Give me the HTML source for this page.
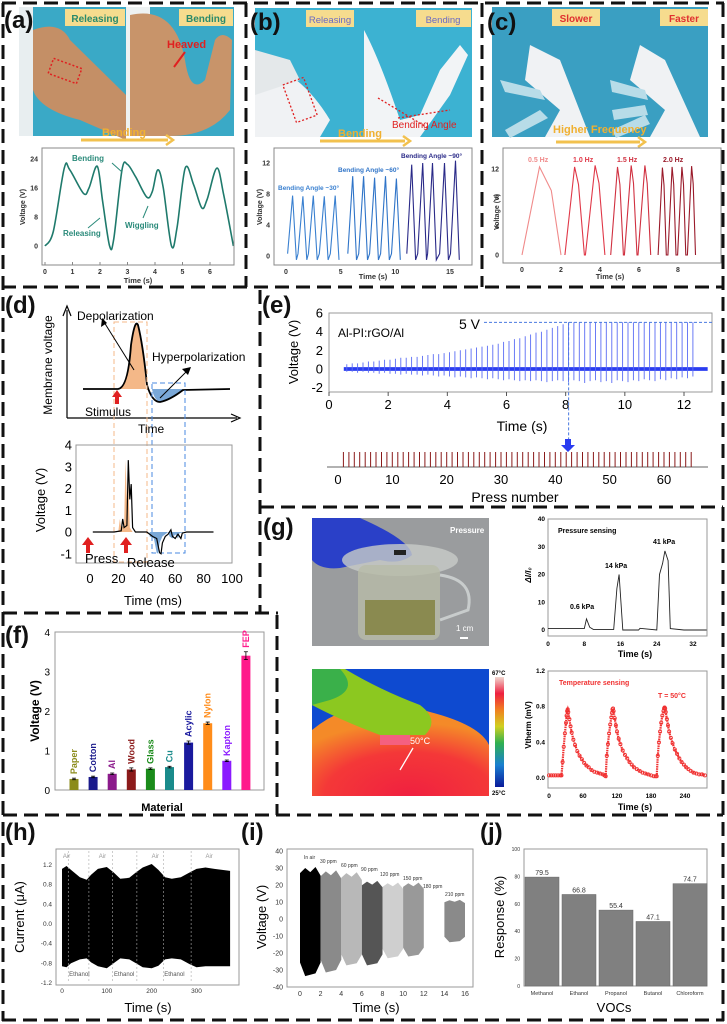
<!DOCTYPE html>
<html><head><meta charset="utf-8"><style>
html,body{margin:0;padding:0;background:#fff}
svg{display:block;font-family:"Liberation Sans",sans-serif}
</style></head><body>
<svg id="fig" width="727" height="1024" viewBox="0 0 727 1024" xmlns="http://www.w3.org/2000/svg">
<rect width="727" height="1024" fill="#fff"/>
<!-- borders -->
<g stroke="#111" stroke-width="3" stroke-dasharray="14 7" fill="none">
<line x1="2" y1="3" x2="724" y2="3"/>
<line x1="3" y1="3" x2="3" y2="1021"/>
<line x1="723" y1="3" x2="723" y2="1021"/>
<line x1="2" y1="287" x2="724" y2="287"/>
<line x1="246" y1="3" x2="246" y2="287"/>
<line x1="482" y1="3" x2="482" y2="287"/>
<line x1="260" y1="290" x2="260" y2="613"/>
<line x1="3" y1="613" x2="278" y2="613"/>
<line x1="277" y1="615" x2="277" y2="815"/>
<line x1="260" y1="507" x2="723" y2="507"/>
<line x1="3" y1="815" x2="723" y2="815"/>
<line x1="2" y1="1020" x2="724" y2="1020"/>
</g>

<!-- photo a -->
<g>
<rect x="19" y="7" width="107" height="129" fill="#3aa9c6"/>
<rect x="19" y="7" width="14" height="129" fill="#e8eef0"/>
<path d="M33 30 Q60 20 70 40 L126 95 L126 140 L80 120 Q40 110 33 90Z" fill="#c48f66"/>
<rect x="126" y="7" width="108" height="129" fill="#3aa9c6"/>
<path d="M126 7 L150 7 L150 136 L126 136Z" fill="#eef2f2"/>
<path d="M130 15 Q175 5 185 60 Q190 95 205 80 L215 40 Q222 30 232 40 L230 110 Q210 136 170 136 L130 136Z" fill="#c8946a"/>
<rect x="50" y="63" width="30" height="16" fill="none" stroke="#e02020" stroke-width="1.5" stroke-dasharray="2 2" transform="rotate(20 65 71)"/>
<rect x="65" y="9" width="60" height="17" fill="#f6dc8e"/>
<text x="95" y="22" font-size="10" font-weight="bold" fill="#2a8a6a" text-anchor="middle">Releasing</text>
<rect x="179" y="9" width="54" height="17" fill="#f6dc8e"/>
<text x="206" y="22" font-size="10" font-weight="bold" fill="#2a8a6a" text-anchor="middle">Bending</text>
<text x="167" y="48" font-size="11" font-weight="bold" fill="#e02020">Heaved</text>
<line x1="185" y1="52" x2="174" y2="67" stroke="#e02020" stroke-width="2"/>
<line x1="81" y1="140" x2="168" y2="140" stroke="#f2c14e" stroke-width="3"/>
<path d="M166 135 L173 140 L166 145" fill="none" stroke="#f2c14e" stroke-width="2.5"/>
<text x="102" y="136" font-size="11" font-weight="bold" fill="#f0b030">Bending</text>
</g>
<!-- photo b -->
<g>
<rect x="255" y="8" width="109" height="129" fill="#3cb2d2"/>
<path d="M255 60 Q300 70 330 120 L320 137 L255 137Z" fill="#f0f2f4"/>
<path d="M255 50 L290 60 L300 80 L255 95Z" fill="#e4e8ea"/>
<rect x="364" y="8" width="108" height="129" fill="#3cb2d2"/>
<path d="M364 30 Q380 60 400 120 L420 115 L440 70 L460 45 L468 55 L450 95 L420 137 L364 137Z" fill="#f2f4f6"/>
<rect x="289" y="80" width="22" height="40" fill="none" stroke="#e02020" stroke-width="1.3" stroke-dasharray="2 2" transform="rotate(-20 300 100)"/>
<line x1="378" y1="98" x2="428" y2="128" stroke="#e02020" stroke-width="1.3" stroke-dasharray="2 2"/>
<line x1="398" y1="118" x2="450" y2="110" stroke="#e02020" stroke-width="1.3" stroke-dasharray="2 2"/>
<rect x="306" y="10" width="48" height="17" fill="#f6dc8e"/>
<text x="330" y="23" font-size="9.5" fill="#6a6ac4" text-anchor="middle">Releasing</text>
<rect x="416" y="10" width="55" height="17" fill="#f6dc8e"/>
<text x="443" y="23" font-size="9.5" fill="#6a6ac4" text-anchor="middle">Bending</text>
<text x="392" y="128" font-size="10" fill="#e02020">Bending Angle</text>
<line x1="320" y1="141" x2="405" y2="141" stroke="#f2c14e" stroke-width="3"/>
<path d="M403 136 L410 141 L403 146" fill="none" stroke="#f2c14e" stroke-width="2.5"/>
<text x="338" y="137" font-size="11" font-weight="bold" fill="#f0b030">Bending</text>
</g>
<!-- photo c -->
<g>
<rect x="492" y="7" width="108" height="130" fill="#3a9fc2"/>
<rect x="600" y="7" width="108" height="130" fill="#3a9fc2"/>
<path d="M530 45 L560 60 L590 137 L545 137 L560 110 L525 80Z" fill="#f0f2f4"/>
<path d="M640 45 L665 60 L700 137 L650 137 L665 110 L630 80Z" fill="#f0f2f4"/>
<path d="M500 80 L540 90 L545 100 L505 92Z" fill="#b8dce8"/>
<path d="M505 130 L540 110 L548 118 L510 138Z" fill="#b8dce8"/>
<path d="M610 80 L645 90 L648 100 L612 92Z" fill="#b8dce8"/>
<path d="M612 110 L645 105 L648 115 L614 120Z" fill="#b8dce8"/>
<path d="M612 130 L645 115 L650 124 L616 138Z" fill="#b8dce8"/>
<rect x="552" y="9" width="48" height="17" fill="#f6dc8e"/>
<text x="576" y="22" font-size="10" font-weight="bold" fill="#e03030" text-anchor="middle">Slower</text>
<rect x="660" y="9" width="48" height="17" fill="#f6dc8e"/>
<text x="684" y="22" font-size="10" font-weight="bold" fill="#e03030" text-anchor="middle">Faster</text>
<line x1="556" y1="142" x2="640" y2="142" stroke="#f2c14e" stroke-width="3"/>
<path d="M638 137 L645 142 L638 147" fill="none" stroke="#f2c14e" stroke-width="2.5"/>
<text x="553" y="133" font-size="11" font-weight="bold" fill="#f0b030">Higher Frequency</text>
</g>

<!-- photo g pressure -->
<g>
<rect x="312" y="518" width="177" height="128" fill="#9a9c9e"/>
<path d="M312 518 L360 518 Q410 540 412 555 Q400 565 380 560 L340 568 Q320 570 312 560Z" fill="#2a40c8"/>
<ellipse cx="400" cy="560" rx="58" ry="16" fill="#c8ccc8" opacity="0.8"/>
<rect x="358" y="565" width="82" height="75" rx="8" fill="#b8bca8" opacity="0.8"/>
<rect x="365" y="600" width="70" height="35" fill="#8a8a50"/>
<path d="M440 575 Q475 580 468 610 L440 620" fill="none" stroke="#c8cccc" stroke-width="3"/>
<rect x="394" y="550" width="12" height="5" fill="#222"/>
<text x="450" y="533" font-size="8" fill="#fff" font-weight="bold">Pressure</text>
<text x="456" y="631" font-size="8" fill="#fff">1 cm</text>
<rect x="460" y="637" width="8" height="2" fill="#fff"/>
</g>
<!-- thermal -->
<defs>
<linearGradient id="cbar" x1="0" y1="1" x2="0" y2="0">
<stop offset="0" stop-color="#0a1a9a"/><stop offset="0.2" stop-color="#1a80d0"/><stop offset="0.4" stop-color="#30b050"/><stop offset="0.55" stop-color="#d0d020"/><stop offset="0.7" stop-color="#f08020"/><stop offset="0.85" stop-color="#ee2040"/><stop offset="1" stop-color="#f0d8d0"/>
</linearGradient>
<radialGradient id="hot" cx="0.55" cy="1" r="0.8"><stop offset="0" stop-color="#f02040"/><stop offset="0.6" stop-color="#f43838"/><stop offset="1" stop-color="#f48a28"/></radialGradient>
</defs>
<g>
<rect x="312" y="669" width="177" height="127" fill="#0e4ad0"/>
<path d="M312 730 Q360 690 430 712 Q480 725 489 745 L489 796 L312 796Z" fill="url(#hot)"/>
<path d="M312 669 L345 669 Q380 690 420 705 Q440 720 425 735 L380 735 Q340 720 312 705Z" fill="#8cc820"/>
<path d="M312 669 L340 669 Q360 690 330 700 L312 705Z" fill="#3ab04a"/>
<rect x="380" y="735" width="30" height="10" fill="#f46080"/>
<text x="410" y="744" font-size="9" fill="#fff">50°C</text>
<line x1="413" y1="748" x2="400" y2="770" stroke="#fff" stroke-width="1.3"/>
<rect x="495" y="677" width="9" height="110" fill="url(#cbar)"/>
<text x="492" y="675" font-size="6" font-weight="bold">67°C</text>
<text x="492" y="795" font-size="6" font-weight="bold">25°C</text>
</g>

<!-- panel labels -->
<g font-weight="bold" font-size="24" fill="#111">
<text x="4" y="28">(a)</text>
<text x="250" y="30">(b)</text>
<text x="487" y="30">(c)</text>
<text x="5" y="313">(d)</text>
<text x="262" y="313">(e)</text>
<text x="263" y="535">(g)</text>
<text x="5" y="643">(f)</text>
<text x="5" y="840">(h)</text>
<text x="241" y="840">(i)</text>
<text x="480" y="840">(j)</text>
</g>

<g id="charts"></g>
</svg>
<script>
const NS='http://www.w3.org/2000/svg';
const root=document.getElementById('charts');
function mk(tag,attrs,parent){const e=document.createElementNS(NS,tag);for(const k in attrs)e.setAttribute(k,attrs[k]);(parent||root).appendChild(e);return e;}
function txt(x,y,s,attrs,parent){const e=mk('text',Object.assign({x:x,y:y},attrs||{}),parent);e.textContent=s;return e;}
function lin(x0,x1,p0,p1){return v=>p0+(v-x0)*(p1-p0)/(x1-x0);}
function smooth(pts){let d='M'+pts[0][0].toFixed(1)+' '+pts[0][1].toFixed(1);for(let i=0;i<pts.length-1;i++){const p0=pts[i-1]||pts[i],p1=pts[i],p2=pts[i+1],p3=pts[i+2]||p2;const c1=[p1[0]+(p2[0]-p0[0])/6,p1[1]+(p2[1]-p0[1])/6],c2=[p2[0]-(p3[0]-p1[0])/6,p2[1]-(p3[1]-p1[1])/6];d+=' C'+c1[0].toFixed(1)+' '+c1[1].toFixed(1)+' '+c2[0].toFixed(1)+' '+c2[1].toFixed(1)+' '+p2[0].toFixed(1)+' '+p2[1].toFixed(1);}return d;}
function poly(pts){return 'M'+pts.map(p=>p[0].toFixed(1)+' '+p[1].toFixed(1)).join(' L');}
function frame(x0,y0,x1,y1,col){const r=mk('rect',{x:x0,y:y0,width:x1-x0,height:y1-y0,fill:'none',stroke:col||'#888','stroke-width':1});return r;}

// ===== data =====
const aT=[0,0.3,0.7,0.9,1.4,1.6,1.9,2.1,2.35,2.5,2.8,3.0,3.3,3.7,3.9,4.1,4.3,4.6,4.8,5.1,5.4,5.7,5.9,6.25,6.5,6.85];
const aV=[0,4,21.5,21,14.5,16,22,12,0,2,21,22.5,19,13.5,15,21,16,0,5,21.5,17,10.5,13,21.5,14,0];
const bPeakT=[0.6,1.55,2.5,3.5,4.5,6.1,7.1,8.1,9.1,10.1,11.5,12.5,13.4,14.5,15.5];
const bPeakV=[7.8,7.7,7.8,7.7,7.8,10.3,10.3,10.1,10.3,10,11.8,12,12,12,12.3];
const bGroup=[0,0,0,0,0,1,1,1,1,1,2,2,2,2,2];
const cPeakT=[0.9,2.7,3.75,4.9,5.6,6.3,7.2,7.7,8.2,8.7];
const cPeakV=[12.3,12.3,12.5,12.3,12.5,12.5,12.2,12.3,12.3,12.4];
const cGroup=[0,1,1,2,2,2,3,3,3,3];
const dT=[0,15,20,21,22,24,25,26,27,28,30,38,42,45,47,48,49,51,53,55,56,58,60,62,63,66,85];
const dV=[0,0,0.05,0.6,0.2,0.3,3.3,1.5,2.2,0.2,0,0,-0.2,-0.3,-0.95,-1,-0.5,-0.2,-0.1,0.1,-0.2,-0.3,-0.1,-0.3,-0.05,0,0];
const ePeaks=[0.5,0.6,0.6,0.7,0.8,0.8,0.9,1.0,1.0,1.1,1.2,1.2,1.3,1.3,1.4,1.5,1.6,1.6,1.7,1.8,1.9,2.0,2.1,2.2,2.3,2.4,2.5,2.6,2.7,2.9,3.0,3.2,3.3,3.5,3.7,3.9,4.0,4.2,4.4,4.6,4.8,5,5,5,5,5,5,5,5,5,5,5,5,5,5,5,5,5,5,5,5,5,5,5,5];
const eDips=[-0.3,-0.3,-0.4,-0.3,-0.4,-0.4,-0.5,-0.4,-0.5,-0.5,-0.6,-0.5,-0.6,-0.6,-0.7,-0.6,-0.7,-0.8,-0.7,-0.8,-0.9,-0.8,-0.9,-1.0,-0.9,-1.0,-1.1,-1.0,-1.1,-1.2,-1.1,-1.2,-1.3,-1.2,-1.3,-1.2,-1.3,-1.4,-1.3,-1.2,-1.3,-1.4,-1.2,-1.3,-1.5,-1.3,-1.2,-1.4,-1.3,-1.5,-1.2,-1.3,-1.4,-1.2,-1.3,-1.1,-1.2,-1.3,-1.1,-1.2,-1.0,-1.1,-0.9,-1.0,-0.8];
const eTickX=[0,2,4,6,8,10,12];const eTickY=[-2,0,2,4,6];
const pressTicks=[0,10,20,30,40,50,60];
const fCats=['Paper','Cotton','Al','Wood','Glass','Cu','Acylic','Nylon','Kapton','FEP'];
const fVals=[0.28,0.33,0.41,0.52,0.54,0.58,1.20,1.69,0.74,3.40];
const fErr=[0.02,0.02,0.02,0.04,0.02,0.02,0.04,0.03,0.02,0.1];
const fColors=['#8b8b1a','#1a1a8b','#8b1a8b','#8b1a1a','#1a8b1a','#1a8b8b','#1a1a9e','#ff8c1a','#8b1aff','#ff1a8b'];
const gPT=[0,8,8.5,9.2,10,14.5,15.2,15.7,16.5,20,20.3,24,24.6,25.3,25.8,26.5,27,30,35];
const gPV=[0.5,0.5,4,1,0.2,0.2,15,20,0,0,0.6,0,20,24,28.5,25,0.5,0,0];
const gTT=[0,4,8,12,16,20,22,24,26,28,30,31,32,33,34,36,38,40,43,46,50,54,58,62,66,70,75,80,85,90,95,98,100,102,104,106,108,110,111,112,113,114,116,118,120,123,126,130,134,138,142,146,150,155,160,165,170,175,180,185,188,190,192,194,196,198,200,202,203,204,205,206,208,210,212,215,218,222,226,230,234,238,242,246,250,255,260,265,270,275];
const gTV=[0.03,0.03,0.03,0.03,0.03,0.03,0.03,0.18,0.35,0.5,0.62,0.7,0.75,0.77,0.74,0.66,0.58,0.51,0.43,0.37,0.3,0.25,0.21,0.17,0.14,0.12,0.09,0.07,0.06,0.05,0.04,0.03,0.02,0.25,0.38,0.5,0.6,0.68,0.73,0.77,0.78,0.75,0.67,0.59,0.52,0.44,0.38,0.31,0.26,0.22,0.18,0.15,0.12,0.1,0.08,0.06,0.05,0.04,0.03,0.02,0.02,0.02,0.25,0.4,0.52,0.62,0.7,0.75,0.78,0.79,0.78,0.74,0.66,0.59,0.52,0.45,0.39,0.32,0.27,0.22,0.18,0.15,0.12,0.1,0.08,0.06,0.05,0.04,0.04,0.03];
const hT=[0,10,20,40,55,65,80,100,115,130,150,165,180,200,215,230,245,265,285,300,320,340,375];
const hUp=[1.12,1.18,1.1,0.95,0.9,1.0,1.12,1.16,1.05,0.92,0.94,1.05,1.15,1.22,1.1,0.95,0.92,0.95,1.05,1.12,1.15,1.12,1.08];
const hLo=[-0.86,-0.88,-0.8,-0.72,-0.7,-0.78,-0.86,-0.9,-0.8,-0.7,-0.72,-0.8,-0.88,-0.9,-0.85,-0.72,-0.7,-0.72,-0.82,-0.88,-0.86,-0.86,-0.86];
const hMarks=[14,60,113,167,226,288];
const iStart=[0,2,4,6,8,10,14];const iEnd=[2,4,6,8,10,12,16];
const iUp=[30,28,27,22,21,21,11];const iLo=[-32,-30,-26,-26,-22,-21,-13];
const iCol=['#000','#8a8a8a','#b8b8b8','#555','#cfcfcf','#999','#8a8a8a'];
const iLabels=['In air','30 ppm','60 ppm','90 ppm','120 ppm','150 ppm','180 ppm','210 ppm'];
const jCats=['Methanol','Ethanol','Propanol','Butanol','Chloroform'];
const jVals=[79.5,66.8,55.4,47.1,74.7];

// ===== (a) =====
(function(){
 const X=lin(0,6,45,210),Y=lin(0,24,246,159);
 const g=mk('g',{});
 frame(42,148,234,265);
 [0,1,2,3,4,5,6].forEach(v=>{const t=txt(X(v),274,String(v),{'font-size':7,'text-anchor':'middle','font-weight':'bold',fill:'#333'},g);mk('line',{x1:X(v),x2:X(v),y1:265,y2:262,stroke:'#888'},g);});
 [0,8,16,24].forEach(v=>{const t=txt(38,Y(v)+2.5,String(v),{'font-size':7,'text-anchor':'end','font-weight':'bold',fill:'#333'},g);});
 const xl=txt(138,283,'Time (s)',{'font-size':7.5,'font-weight':'bold','text-anchor':'middle',fill:'#333'},g);
 const yl=txt(0,0,'Voltage (V)',{'font-size':7,'font-weight':'bold','text-anchor':'middle',fill:'#333',transform:'translate(25 207) rotate(-90)'},g);
 const p=mk('path',{d:smooth(aT.map((t,i)=>[X(t),Y(aV[i])])),fill:'none',stroke:'#1f7a6c','stroke-width':1.6},g);
 [['Bending',72,161],['Releasing',63,236],['Wiggling',125,228]].forEach(a=>{const t=txt(a[1],a[2],a[0],{'font-size':8,'font-weight':'bold',fill:'#2a8a7a'},g);});
 mk('line',{x1:112,y1:163,x2:122,y2:172,stroke:'#2a8a7a'},g);mk('line',{x1:88,y1:228,x2:100,y2:218,stroke:'#2a8a7a'},g);mk('line',{x1:143,y1:218,x2:148,y2:206,stroke:'#2a8a7a'},g);
})();

// ===== (b) =====
(function(){
 const X=lin(0,15,286,450),Y=lin(0,12,256,163);
 const g=mk('g',{});
 frame(274,148,472,265);
 [0,5,10,15].forEach(v=>{const t=txt(X(v),274,String(v),{'font-size':7,'text-anchor':'middle','font-weight':'bold',fill:'#333'},g);});
 [0,4,8,12].forEach(v=>{const t=txt(270,Y(v)+2.5,String(v),{'font-size':7,'text-anchor':'end','font-weight':'bold',fill:'#333'},g);});
 const xl=txt(373,279,'Time (s)',{'font-size':7.5,'font-weight':'bold','text-anchor':'middle',fill:'#333'},g);
 const yl=txt(0,0,'Voltage (V)',{'font-size':7,'font-weight':'bold','text-anchor':'middle',fill:'#333',transform:'translate(262 207) rotate(-90)'},g);
 const cols=['#3a80d0','#2f74c8','#2a2a88'];
 for(let k=0;k<3;k++){const pts=[];bPeakT.forEach((t,i)=>{if(bGroup[i]!==k)return;pts.push([X(t-0.45),Y(0.3)]);pts.push([X(t),Y(bPeakV[i])]);pts.push([X(t+0.35),Y(-0.5)]);});
  const p=mk('path',{d:poly(pts),fill:'none',stroke:cols[k],'stroke-width':1.1},g);}
 [['Bending Angle ~30°',278,190,'#3a80d0'],['Bending Angle ~60°',338,172,'#2f74c8'],['Bending Angle ~90°',401,158,'#2a2a88']].forEach(a=>{const t=txt(a[1],a[2],a[0],{'font-size':6.5,'font-weight':'bold',fill:a[3]},g);});
})();

// ===== (c) =====
(function(){
 const X=lin(0,8,522,678),Y=lin(0,12,255,169);
 const g=mk('g',{});
 frame(503,148,721,263);
 [0,2,4,6,8].forEach(v=>{const t=txt(X(v),272,String(v),{'font-size':7,'text-anchor':'middle','font-weight':'bold',fill:'#333'},g);});
 [0,4,8,12].forEach(v=>{const t=txt(499,Y(v)+2.5,String(v),{'font-size':7,'text-anchor':'end','font-weight':'bold',fill:'#333'},g);});
 const xl=txt(610,279,'Time (s)',{'font-size':7.5,'font-weight':'bold','text-anchor':'middle',fill:'#333'},g);
 const yl=txt(0,0,'Voltage (V)',{'font-size':7,'font-weight':'bold','text-anchor':'middle',fill:'#333',transform:'translate(499 212) rotate(-90)'},g);
 const cols=['#f08a8a','#e03848','#d03040','#9a1a2a'];const rise=[0.9,0.5,0.35,0.22],fall=[1.1,0.5,0.3,0.2];
 for(let k=0;k<4;k++){const pts=[];cPeakT.forEach((t,i)=>{if(cGroup[i]!==k)return;pts.push([X(t-rise[k]),Y(0)]);pts.push([X(t),Y(cPeakV[i])]);if(k===0)pts.push([X(t+0.6),Y(9)]);else pts.push([X(t+fall[k]*0.4),Y(cPeakV[i]*0.8)]);pts.push([X(t+fall[k]),Y(0)]);});
  const p=mk('path',{d:poly(pts),fill:'none',stroke:cols[k],'stroke-width':1.1},g);}
 [['0.5 Hz',528,'#f08a8a'],['1.0 Hz',573,'#e03848'],['1.5 Hz',617,'#d03040'],['2.0 Hz',663,'#9a1a2a']].forEach(a=>{const t=txt(a[1],162,a[0],{'font-size':7,'font-weight':'bold',fill:a[2]},g);});
})();

// ===== (d) =====
(function(){
 const g=mk('g',{});
 mk('path',{d:'M67 418 L67 310 M63 316 L67 306 L71 316',fill:'none',stroke:'#000','stroke-width':1.2},g);
 mk('path',{d:'M67 418 L237 418 M231 414 L240 418 L231 422',fill:'none',stroke:'#000','stroke-width':1.2},g);
 mk('path',{d:'M115 389 L120 389 Q128 385 131 345 Q135 318 138 325 Q143 345 146 389 Z',fill:'#f4b888'},g);
 mk('path',{d:'M152 389 L183 389 Q170 400 160 402 Q154 400 152 389Z',fill:'#7aa8d8'},g);
 const sp=mk('path',{d:'M83 389 L118 389 Q128 388 131 345 Q135 318 138 325 Q143 345 147 385 Q152 402 160 402 Q170 400 183 390 L230 389',fill:'none',stroke:'#000','stroke-width':1.8},g);
 mk('rect',{x:114,y:322,width:33,height:240,fill:'none',stroke:'#f4b888','stroke-width':1,'stroke-dasharray':'5 3'},g);
 mk('rect',{x:152,y:383,width:33,height:170,fill:'none',stroke:'#4a8ae0','stroke-width':1,'stroke-dasharray':'5 3'},g);
 mk('line',{x1:134,y1:370,x2:104,y2:322,stroke:'#000'},g);mk('path',{d:'M102 318 L101 327 L107 323Z'},g);
 mk('line',{x1:160,y1:398,x2:188,y2:370,stroke:'#000'},g);mk('path',{d:'M191 367 L182 369 L188 375Z'},g);
 mk('path',{d:'M115 397 L119 397 L119 404 L115 404Z M112 397 L117 390 L122 397Z',fill:'#e02020'},g);
 [['Depolarization',77,320],['Hyperpolarization',152,361],['Stimulus',85,416],['Time',138,433]].forEach(a=>{const t=txt(a[1],a[2],a[0],{'font-size':12},g);});
 const ml=txt(0,0,'Membrane voltage',{'font-size':12,'text-anchor':'middle',transform:'translate(52 365) rotate(-90)'},g);
 const X=lin(0,100,90,232),Y=lin(0,4,532,445);
 mk('rect',{x:76,y:445,width:156,height:118,fill:'none',stroke:'#999'},g);
 [0,20,40,60,80,100].forEach(v=>{const t=txt(X(v),583,String(v),{'font-size':13,'text-anchor':'middle'},g);});
 [-1,0,1,2,3,4].forEach(v=>{const t=txt(72,Y(v)+4.5,String(v),{'font-size':13,'text-anchor':'end'},g);});
 const xl=txt(153,605,'Time (ms)',{'font-size':13,'text-anchor':'middle'},g);
 const yl=txt(0,0,'Voltage (V)',{'font-size':13,'text-anchor':'middle',transform:'translate(45 500) rotate(-90)'},g);
 const pos=dT.map((t,i)=>[X(t),Y(Math.max(0,dV[i]))]).filter((p,i)=>dT[i]>=18&&dT[i]<=30);
 const fo=mk('path',{d:poly([[X(18),Y(0)]].concat(pos,[[X(30),Y(0)]]))+'Z',fill:'#f4b888'},g);
 const neg=dT.map((t,i)=>[X(t),Y(Math.min(0,dV[i]))]).filter((p,i)=>dT[i]>=42&&dT[i]<=66);
 const fb=mk('path',{d:poly([[X(42),Y(0)]].concat(neg,[[X(66),Y(0)]]))+'Z',fill:'#7aa8d8'},g);
 const p=mk('path',{d:poly(dT.map((t,i)=>[X(t+2),Y(dV[i])])),fill:'none',stroke:'#000','stroke-width':1.2},g);
 mk('path',{d:'M86 545 L90 545 L90 553 L86 553Z M82 545 L88 537 L94 545Z',fill:'#e02020'},g);
 mk('path',{d:'M124 545 L128 545 L128 553 L124 553Z M120 545 L126 537 L132 545Z',fill:'#e02020'},g);
 const t1=txt(85,563,'Press',{'font-size':13},g);
 const t2=txt(127,567,'Release',{'font-size':13},g);
})();

// ===== (e) =====
(function(){
 const X=lin(0,12,329,684),Y=lin(0,6,369,313);
 const g=mk('g',{});
 mk('rect',{x:329,y:313,width:383,height:79,fill:'none',stroke:'#999'},g);
 eTickX.forEach(v=>{const t=txt(X(v),409,String(v),{'font-size':13,'text-anchor':'middle'},g);mk('line',{x1:X(v),x2:X(v),y1:392,y2:396,stroke:'#555'},g);});
 eTickY.forEach(v=>{const t=txt(323,Y(v)+4.5,String(v),{'font-size':13,'text-anchor':'end'},g);});
 const xl=txt(522,431,'Time (s)',{'font-size':14,'text-anchor':'middle'},g);
 const yl=txt(0,0,'Voltage (V)',{'font-size':13,'text-anchor':'middle',transform:'translate(298 352) rotate(-90)'},g);
 const lg=txt(338,337,'Al-PI:rGO/Al',{'font-size':12},g);
 const base=mk('rect',{x:X(0.5),y:Y(0.2),width:X(12.8)-X(0.5),height:Y(-0.2)-Y(0.2),fill:'#2a3cf0'},g);
 const step=(12.3-0.6)/(ePeaks.length-1);let d='';
 ePeaks.forEach((v,i)=>{const x=X(0.6+i*step);d+='M'+x.toFixed(1)+' '+Y(v).toFixed(1)+' L'+x.toFixed(1)+' '+Y(eDips[i]).toFixed(1)+' ';});
 const sp=mk('path',{d:d,stroke:'#5a6cf4','stroke-width':0.9,fill:'none'},g);
 const t5=txt(459,329,'5 V',{'font-size':14},g);
 mk('line',{x1:484,y1:Y(5),x2:712,y2:Y(5),stroke:'#4a7ae0','stroke-dasharray':'3 2'},g);
 mk('line',{x1:X(8.1),y1:Y(5),x2:X(8.1),y2:443,stroke:'#4a7ae0','stroke-dasharray':'3 2'},g);
 mk('path',{d:'M565 439 L571 439 L571 445 L575 445 L568 452 L561 445 L565 445Z',fill:'#2a3cf0'},g);
 const P=lin(0,60,338,664);
 mk('line',{x1:327,y1:467,x2:708,y2:467,stroke:'#666','stroke-width':1},g);
 let pd='';ePeaks.forEach((v,i)=>{const x=P(i+1);pd+='M'+x.toFixed(1)+' 467 L'+x.toFixed(1)+' 452 ';});
 const pb=mk('path',{d:pd,stroke:'#8a1a1a','stroke-width':1},g);
 pressTicks.forEach(v=>{const t=txt(P(v),484,String(v),{'font-size':13,'text-anchor':'middle'},g);});
 const pl=txt(515,502,'Press number',{'font-size':14,'text-anchor':'middle'},g);
})();

// ===== (f) =====
(function(){
 const Y=lin(0,4,790,632);
 const g=mk('g',{});
 mk('rect',{x:55,y:632,width:209,height:158,fill:'none',stroke:'#999'},g);
 [0,1,2,3,4].forEach(v=>{const t=txt(50,Y(v)+4,String(v),{'font-size':10,'text-anchor':'end'},g);});
 const yl=txt(0,0,'Voltage (V)',{'font-size':12,'font-weight':'bold','text-anchor':'middle',transform:'translate(39 711) rotate(-90)'},g);
 const xl=txt(162,811,'Material',{'font-size':11,'font-weight':'bold','text-anchor':'middle'},g);
 const bw=19.1;
 fVals.forEach((v,i)=>{const cx=74+i*bw;const b=mk('rect',{x:cx-4.5,y:Y(v),width:9,height:790-Y(v),fill:fColors[i]},g);
  mk('path',{d:'M'+(cx-2)+' '+Y(v+fErr[i])+' L'+(cx+2)+' '+Y(v+fErr[i])+' M'+cx+' '+Y(v+fErr[i])+' L'+cx+' '+Y(v-fErr[i])+' M'+(cx-2)+' '+Y(v-fErr[i])+' L'+(cx+2)+' '+Y(v-fErr[i]),stroke:'#000','stroke-width':0.8},g);
  const t=txt(0,0,fCats[i],{'font-size':9,'font-weight':'bold',fill:fColors[i],transform:'translate('+(cx+3)+' '+(Y(v+fErr[i])-4)+') rotate(-90)'},g);});
})();

// ===== (g) pressure =====
(function(){
 const X=lin(0,32,548,693),Y=lin(0,40,630,519);
 const g=mk('g',{});
 mk('rect',{x:548,y:519,width:159,height:117,fill:'none',stroke:'#999'},g);
 [0,8,16,24,32].forEach(v=>{const t=txt(X(v),646,String(v),{'font-size':6.5,'font-weight':'bold','text-anchor':'middle'},g);});
 [0,10,20,30,40].forEach(v=>{const t=txt(545,Y(v)+2,String(v),{'font-size':6.5,'font-weight':'bold','text-anchor':'end'},g);});
 const xl=txt(635,657,'Time (s)',{'font-size':9,'font-weight':'bold','text-anchor':'middle'},g);
 const yl=txt(0,0,'ΔI/I₀',{'font-size':8,'font-style':'italic','font-weight':'bold','text-anchor':'middle',transform:'translate(531 575) rotate(-90)'},g);
 const p=mk('path',{d:poly(gPT.map((t,i)=>[X(t),Y(gPV[i])])),fill:'none',stroke:'#222','stroke-width':0.9},g);
 [['Pressure sensing',558,533],['0.6 kPa',570,609],['14 kPa',605,568],['41 kPa',653,544]].forEach(a=>{const t=txt(a[1],a[2],a[0],{'font-size':7,'font-weight':'bold'},g);});
})();
// ===== (g) temperature =====
(function(){
 const X=lin(0,240,549,685),Y=lin(0,1.2,778,671);
 const g=mk('g',{});
 mk('rect',{x:548,y:671,width:159,height:117,fill:'none',stroke:'#999'},g);
 [0,60,120,180,240].forEach(v=>{const t=txt(X(v),798,String(v),{'font-size':6.5,'font-weight':'bold','text-anchor':'middle'},g);});
 [0,0.4,0.8,1.2].forEach(v=>{const t=txt(545,Y(v)+2,v.toFixed(1),{'font-size':6.5,'font-weight':'bold','text-anchor':'end'},g);});
 const xl=txt(635,810,'Time (s)',{'font-size':9,'font-weight':'bold','text-anchor':'middle'},g);
 const yl=txt(0,0,'Vtherm (mV)',{'font-size':8,'font-weight':'bold','text-anchor':'middle',transform:'translate(531 725) rotate(-90)'},g);
 const ln=mk('path',{d:poly(gTT.map((t,i)=>[X(t),Y(gTV[i])])),fill:'none',stroke:'#f03030','stroke-width':2.2,'stroke-dasharray':'1.5 0.8'},g);
 gTT.forEach((t,i)=>{const c=mk('circle',{cx:X(t),cy:Y(gTV[i]),r:1.6,fill:'none',stroke:'#f03030','stroke-width':0.8},g);});
 const a=txt(559,685,'Temperature sensing',{'font-size':7,'font-weight':'bold',fill:'#f03030'},g);
 const b=txt(658,698,'T = 50°C',{'font-size':7,'font-weight':'bold',fill:'#f03030'},g);
})();

// ===== (h) =====
(function(){
 const X=lin(0,300,62,196.5),Y=lin(0,1.2,924,865);
 const g=mk('g',{});
 mk('rect',{x:56,y:849,width:183,height:136,fill:'none',stroke:'#999'},g);
 const pts=hT.map((t,i)=>[X(t),Y(hUp[i])]).concat(hT.slice().reverse().map((t,j)=>[X(t),Y(hLo[hT.length-1-j])]));
 const env=mk('path',{d:poly(pts)+'Z',fill:'#000'},g);
 hMarks.forEach(t=>{const l=mk('line',{x1:X(t),x2:X(t),y1:851,y2:983,stroke:'#aaa','stroke-dasharray':'2 2','stroke-width':0.6},g);});
 [0,100,200,300].forEach(v=>{const t=txt(X(v),993,String(v),{'font-size':6.5,'text-anchor':'middle',fill:'#333'},g);});
 [-1.2,-0.8,-0.4,0,0.4,0.8,1.2].forEach(v=>{const t=txt(52,Y(v)+2,v.toFixed(1),{'font-size':6.5,'text-anchor':'end',fill:'#333'},g);});
 const xl=txt(148,1012,'Time (s)',{'font-size':13,'text-anchor':'middle'},g);
 const yl=txt(0,0,'Current (μA)',{'font-size':13,'text-anchor':'middle',transform:'translate(24 917) rotate(-90)'},g);
 [[X(2),858,'Air'],[X(82),858,'Air'],[X(200),858,'Air'],[X(320),858,'Air']].forEach(a=>{const t=txt(a[0],a[1],a[2],{'font-size':6,fill:'#999'},g);});
 [[X(16),976],[X(116),976],[X(228),976]].forEach(a=>{const t=txt(a[0],a[1],'Ethanol',{'font-size':6,fill:'#555'},g);});
})();

// ===== (i) =====
(function(){
 const X=lin(0,16,300,465),Y=lin(0,40,919,851);
 const g=mk('g',{});
 mk('rect',{x:287,y:849,width:186,height:138,fill:'none',stroke:'#999'},g);
 iStart.forEach((s,i)=>{const e=iEnd[i];const up=iUp[i],lo=iLo[i];const pts=[[X(s),Y(lo*0.8)],[X(s),Y(up*0.9)],[X(s+0.5),Y(up)],[X(s+1),Y(up*0.92)],[X(s+1.5),Y(up*1.02)],[X(e),Y(up*0.85)],[X(e),Y(lo*0.8)],[X(s+1.5),Y(lo)],[X(s+0.5),Y(lo*1.05)]];
  const p=mk('path',{d:poly(pts)+'Z',fill:iCol[i]},g);});
 [0,2,4,6,8,10,12,14,16].forEach(v=>{const t=txt(X(v),996,String(v),{'font-size':7,'text-anchor':'middle',fill:'#333'},g);});
 [-40,-30,-20,-10,0,10,20,30,40].forEach(v=>{const t=txt(283,Y(v)+2.5,String(v),{'font-size':7,'text-anchor':'end',fill:'#333'},g);});
 const xl=txt(376,1012,'Time (s)',{'font-size':13,'text-anchor':'middle'},g);
 const yl=txt(0,0,'Voltage (V)',{'font-size':13,'text-anchor':'middle',transform:'translate(266 917) rotate(-90)'},g);
 const lx=[304,320,341,361,380,403,423,445],ly=[859,863,867,871,876,880,888,896];
 iLabels.forEach((s,i)=>{const t=txt(lx[i],ly[i],s,{'font-size':5,fill:'#333'},g);});
})();

// ===== (j) =====
(function(){
 const Y=lin(0,100,986,849);
 const g=mk('g',{});
 mk('rect',{x:524,y:849,width:183,height:137,fill:'none',stroke:'#999'},g);
 const step=37,w=34;
 jVals.forEach((v,i)=>{const cx=542+i*step;const b=mk('rect',{x:cx-w/2,y:Y(v),width:w,height:986-Y(v),fill:'#808080',stroke:'#666','stroke-width':0.5},g);
  const t=txt(cx,Y(v)-2,v.toFixed(1),{'font-size':7,'text-anchor':'middle',fill:'#333'},g);
  const c=txt(cx,995,jCats[i],{'font-size':5.5,'text-anchor':'middle',fill:'#333'},g);});
 [0,20,40,60,80,100].forEach(v=>{const t=txt(520,Y(v)+2,String(v),{'font-size':5,'text-anchor':'end',fill:'#333'},g);});
 const xl=txt(614,1012,'VOCs',{'font-size':13,'text-anchor':'middle'},g);
 const yl=txt(0,0,'Response  (%)',{'font-size':13,'text-anchor':'middle',transform:'translate(504 917) rotate(-90)'},g);
})();
</script>
</body></html>
